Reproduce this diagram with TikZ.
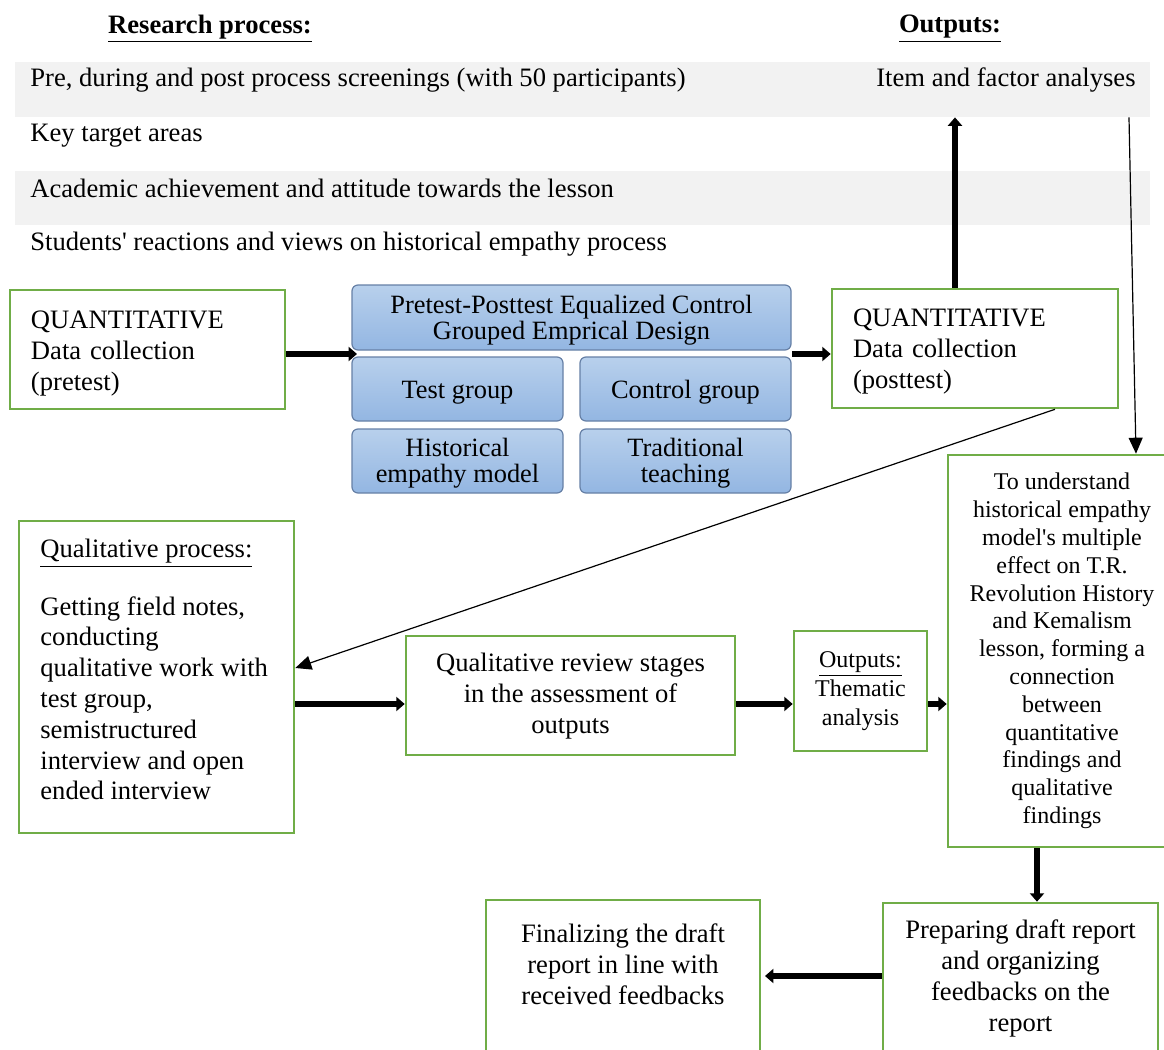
\documentclass[tikz,border=0pt]{standalone}
\usepackage{fontspec}
\setmainfont{Liberation Serif}
\usetikzlibrary{arrows.meta}
\definecolor{gboxc}{HTML}{70AD47}
\definecolor{bandc}{HTML}{F2F2F2}
\definecolor{btop}{HTML}{B8D0EC}
\definecolor{bbot}{HTML}{93B6E2}
\definecolor{bline}{HTML}{6680A6}
\newcommand\mytopsp[1]{\rule{0pt}{#1}}
\tikzset{
  gbox/.style={draw=gboxc, line width=1.3pt, fill=white, inner sep=0pt},
  bbox/.style={draw=bline, line width=0.6pt, rounded corners=3pt, top color=btop, bottom color=bbot, inner sep=0pt, align=center, font=\fontsize{13.2}{13}\selectfont},
  band/.style={fill=bandc, draw=none, inner sep=0pt},
  txt/.style={inner sep=0pt, font=\fontsize{13.3}{15.5}\selectfont},
  stxt/.style={inner sep=0pt, font=\fontsize{12}{13.9}\selectfont},
  thick arrow/.style={line width=3.3pt, -{Triangle[length=4.2pt,width=7pt]}},
  thin arrow/.style={line width=0.6pt, -{Triangle[length=8pt,width=7pt]}}
}
\begin{document}
\begin{tikzpicture}[x=0.5pt,y=-0.5pt]
\useasboundingbox (0,0) rectangle (1164,1050);
% titles
\node[txt, font=\fontsize{13.3}{15.5}\selectfont\bfseries] (t1) at (210,29) {\underline{Research process:}};
\node[txt, font=\fontsize{13.3}{15.5}\selectfont\bfseries] (t2) at (950,29) {\underline{Outputs:}};
% bands
\node[band, minimum width=567.5pt, minimum height=27.5pt] (band1) at (582.5,89.5) {};
\node[band, minimum width=567.5pt, minimum height=27pt] (band2) at (582.5,198) {};
\node[txt, anchor=west] (l1) at (30,80) {Pre, during and post process screenings (with 50 participants)};
\node[txt, anchor=east] (l1r) at (1136,80) {Item and factor analyses};
\node[txt, anchor=west] (l2) at (30,136) {Key target areas};
\node[txt, anchor=west] (l3) at (30,188) {Academic achievement and attitude towards the lesson};
\node[txt, anchor=west] (l4) at (30,244) {Students\textquotesingle\ reactions and views on historical empathy process};
% quantitative boxes
\node[gbox, txt, text width=116.5pt, inner xsep=10.5pt, minimum height=59.5pt, align=left] (pre) at (147.5,349.5)
  {\mytopsp{12.6pt}QUANTITATIVE\\Data collection\\(pretest)};
\node[gbox, txt, text width=122pt, inner xsep=10.5pt, minimum height=59.5pt, align=left] (post) at (975,348.5)
  {\mytopsp{12.2pt}QUANTITATIVE\\Data collection\\(posttest)};
% blue boxes
\node[bbox, minimum width=219.5pt, minimum height=32.5pt] (design) at (571.5,317.5)
  {\mytopsp{12pt}Pretest-Posttest Equalized Control\\Grouped Emprical Design};
\node[bbox, minimum width=105.5pt, minimum height=32pt] (testg) at (457.5,389) {\mytopsp{12pt}Test group};
\node[bbox, minimum width=105.5pt, minimum height=32pt] (ctrlg) at (685.5,389) {\mytopsp{12pt}Control group};
\node[bbox, minimum width=105.5pt, minimum height=32pt] (hist) at (457.5,461) {\mytopsp{11.2pt}Historical\\empathy model};
\node[bbox, minimum width=105.5pt, minimum height=32pt] (trad) at (685.5,461) {\mytopsp{11.2pt}Traditional\\teaching};
% qualitative process
\node[gbox, minimum width=137.5pt, minimum height=156pt] (qual) at (156.5,677) {};
\node[txt, anchor=north west, align=left, font=\fontsize{13.3}{15.4}\selectfont] (qualtxt) at (40,539)
  {\underline{Qualitative process:}\\[13.2pt]Getting field notes,\\conducting\\qualitative work with\\test group,\\semistructured\\interview and open\\ended interview};
\node[gbox, txt, minimum width=164.5pt, minimum height=59.5pt, align=center] (review) at (570.5,695.5)
  {\mytopsp{10pt}Qualitative review stages\\in the assessment of\\outputs};
\node[gbox, stxt, minimum width=66.5pt, minimum height=60pt, align=center, font=\fontsize{12}{14.5}\selectfont] (them) at (860.5,691)
  {\underline{Outputs:}\\Thematic\\analysis};
\node[gbox, stxt, minimum width=114pt, minimum height=196pt, align=center] (big) at (1062,651)
  {To understand\\historical empathy\\model\textquotesingle s multiple\\effect on T.R.\\Revolution History\\and Kemalism\\lesson, forming a\\connection\\between\\quantitative\\findings and\\qualitative\\findings};
\node[gbox, txt, minimum width=137.5pt, minimum height=75pt, align=center] (prep) at (1020.5,978)
  {Preparing draft report\\and organizing\\feedbacks on the\\report};
\node[gbox, minimum width=137pt, minimum height=76.5pt] (fin) at (623,976.5) {};
\node[txt, align=center] (fintxt) at (623,964.5) {Finalizing the draft\\report in line with\\received feedbacks};
% helper coordinates
\coordinate (inL) at (357,354);
\coordinate (inR) at (792,354);
\coordinate (up) at (955,0);
\coordinate (th1) at (1129,0);
\coordinate (th2) at (1136,0);
\coordinate (d1) at (1055,0);
\coordinate (d2) at (0,668);
\coordinate (row) at (0,704);
\coordinate (dn) at (1037,0);
\coordinate (lf) at (0,976);
\coordinate (finend) at (765,976);
% connectors
\draw[thick arrow] (pre.east |- inL) -- (inL);
\draw[thick arrow] (inR) -- (post.west |- inR);
\draw[thick arrow] (post.north -| up) -- (band1.south -| up);
\draw[thin arrow] (band1.south -| th1) -- (big.north -| th2);
\draw[thin arrow] (post.south -| d1) -- (qual.east |- d2);
\draw[thick arrow] (qual.east |- row) -- (review.west |- row);
\draw[thick arrow] (review.east |- row) -- (them.west |- row);
\draw[thick arrow] (them.east |- row) -- (big.west |- row);
\draw[thick arrow] (big.south -| dn) -- (prep.north -| dn);
\draw[thick arrow] (prep.west |- lf) -- (finend);
\end{tikzpicture}
\end{document}
